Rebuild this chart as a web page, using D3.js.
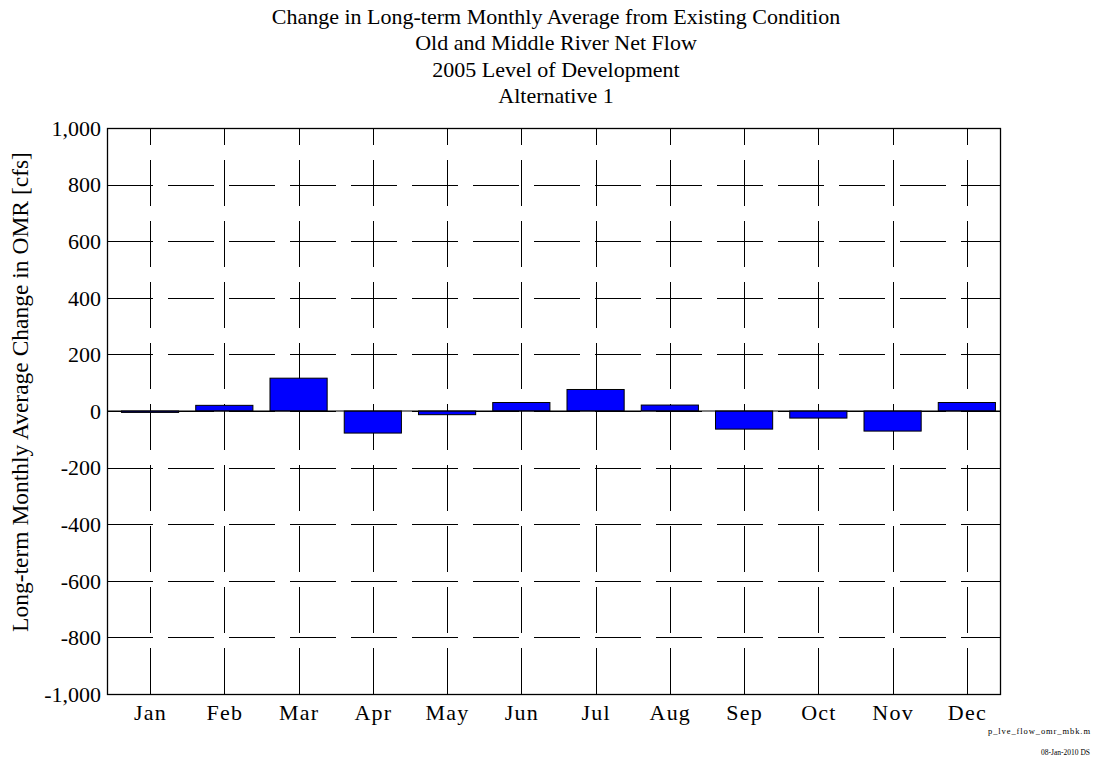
<!DOCTYPE html>
<html>
<head>
<meta charset="utf-8">
<script src="https://cdn.jsdelivr.net/npm/d3@7"></script>
<style>
  html, body { margin: 0; padding: 0; background: #fff; }
  svg { display: block; }
  text { font-family: "Liberation Serif", "Times New Roman", serif; fill: #000; }
</style>
</head>
<body>
<svg id="chart" width="1096" height="763"></svg>
<script>
// Monthly change in long-term average OMR net flow (cfs)
const months = ["Jan", "Feb", "Mar", "Apr", "May", "Jun", "Jul", "Aug", "Sep", "Oct", "Nov", "Dec"];
const changeCfs = [-5, 20, 116, -78, -13, 30, 76, 21, -64, -25, -71, 30];
const yTicks = [-1000, -800, -600, -400, -200, 0, 200, 400, 600, 800, 1000];
const titleLines = [
  "Change in Long-term Monthly Average from Existing Condition",
  "Old and Middle River Net Flow",
  "2005 Level of Development",
  "Alternative 1"
];
const yLabel = "Long-term Monthly Average Change in OMR [cfs]";
const footerLines = ["p_lve_flow_omr_mbk.m", "08-Jan-2010 DS"];

const svg = d3.select("#chart");
const plot = { left: 107, right: 1001, top: 128, bottom: 694 };

const x = d3.scaleLinear().domain([0.42, 12.46]).range([plot.left, plot.right]);
const y = d3.scaleLinear().domain([-1000, 1000]).range([plot.bottom, plot.top]);
const barW = 0.77;

// thousands separator with a plain hyphen for negatives
const fmt = v => d3.format(",")(v).replace("\u2212", "-");

// Titles
svg.append("g").selectAll("text").data(titleLines).join("text")
  .attr("x", (plot.left + plot.right) / 2 + 2)
  .attr("y", (d, i) => 24 + i * 26.3)
  .attr("text-anchor", "middle")
  .attr("font-size", 22)
  .text(d => d);

// Dashed grid, dashes laid out from the left and bottom edges
const grid = svg.append("g").attr("stroke", "#000").attr("stroke-width", 1)
  .attr("stroke-dasharray", "46,15").attr("fill", "none");
grid.selectAll("line.h").data(yTicks.filter(v => v > -1000 && v < 1000)).join("line")
  .attr("class", "h")
  .attr("x1", plot.left).attr("x2", plot.right)
  .attr("y1", d => Math.round(y(d)) + 0.5).attr("y2", d => Math.round(y(d)) + 0.5);
grid.selectAll("line.v").data(months).join("line")
  .attr("class", "v")
  .attr("x1", (d, i) => Math.round(x(i + 1)) + 0.5).attr("x2", (d, i) => Math.round(x(i + 1)) + 0.5)
  .attr("y1", plot.bottom).attr("y2", plot.top);

// Bars
svg.append("g").selectAll("rect").data(changeCfs).join("rect")
  .attr("x", (d, i) => x(i + 1 - barW / 2))
  .attr("width", (d, i) => x(i + 1 + barW / 2) - x(i + 1 - barW / 2))
  .attr("y", d => y(Math.max(0, d)))
  .attr("height", d => Math.abs(y(d) - y(0)))
  .attr("fill", "#0000ff")
  .attr("stroke", "#000")
  .attr("stroke-width", 1);

// Zero baseline
svg.append("line")
  .attr("x1", plot.left).attr("x2", plot.right)
  .attr("y1", y(0)).attr("y2", y(0))
  .attr("stroke", "#000").attr("stroke-width", 1.2);

// Axes
const yAxis = d3.axisLeft(y).tickValues(yTicks).tickFormat(fmt).tickSize(0).tickPadding(6);
const gy = svg.append("g").attr("transform", `translate(${plot.left},0)`).call(yAxis);
gy.select(".domain").remove();
gy.selectAll("text").attr("font-size", 22).attr("font-family", "Liberation Serif").attr("dy", "0.33em");

const xAxis = d3.axisBottom(x).tickValues(months.map((m, i) => i + 1))
  .tickFormat((d) => months[d - 1]).tickSize(0).tickPadding(9);
const gx = svg.append("g").attr("transform", `translate(0,${plot.bottom})`).call(xAxis);
gx.select(".domain").remove();
gx.selectAll("text").attr("font-size", 22).attr("letter-spacing", 1.2)
  .attr("font-family", "Liberation Serif").attr("dy", "0.75em");

svg.append("rect")
  .attr("x", plot.left + 0.5).attr("y", plot.top + 0.5)
  .attr("width", plot.right - plot.left - 1).attr("height", plot.bottom - plot.top)
  .attr("fill", "none").attr("stroke", "#000").attr("stroke-width", 1.3);

// Y-axis title
svg.append("text")
  .attr("transform", `translate(28,${(plot.top + plot.bottom) / 2 - 19}) rotate(-90)`)
  .attr("text-anchor", "middle")
  .attr("font-size", 23.5)
  .text(yLabel);

// Footer stamp
const foot = svg.append("g").selectAll("text").data(footerLines).join("text")
  .attr("x", 1090)
  .attr("y", (d, i) => 734 + i * 21)
  .attr("text-anchor", "end")
  .attr("font-size", 7.5)
  .text(d => d);
foot.filter((d, i) => i === 0).attr("font-size", 8.5).attr("textLength", 102).attr("x", 988).attr("text-anchor", "start");
</script>
</body>
</html>
